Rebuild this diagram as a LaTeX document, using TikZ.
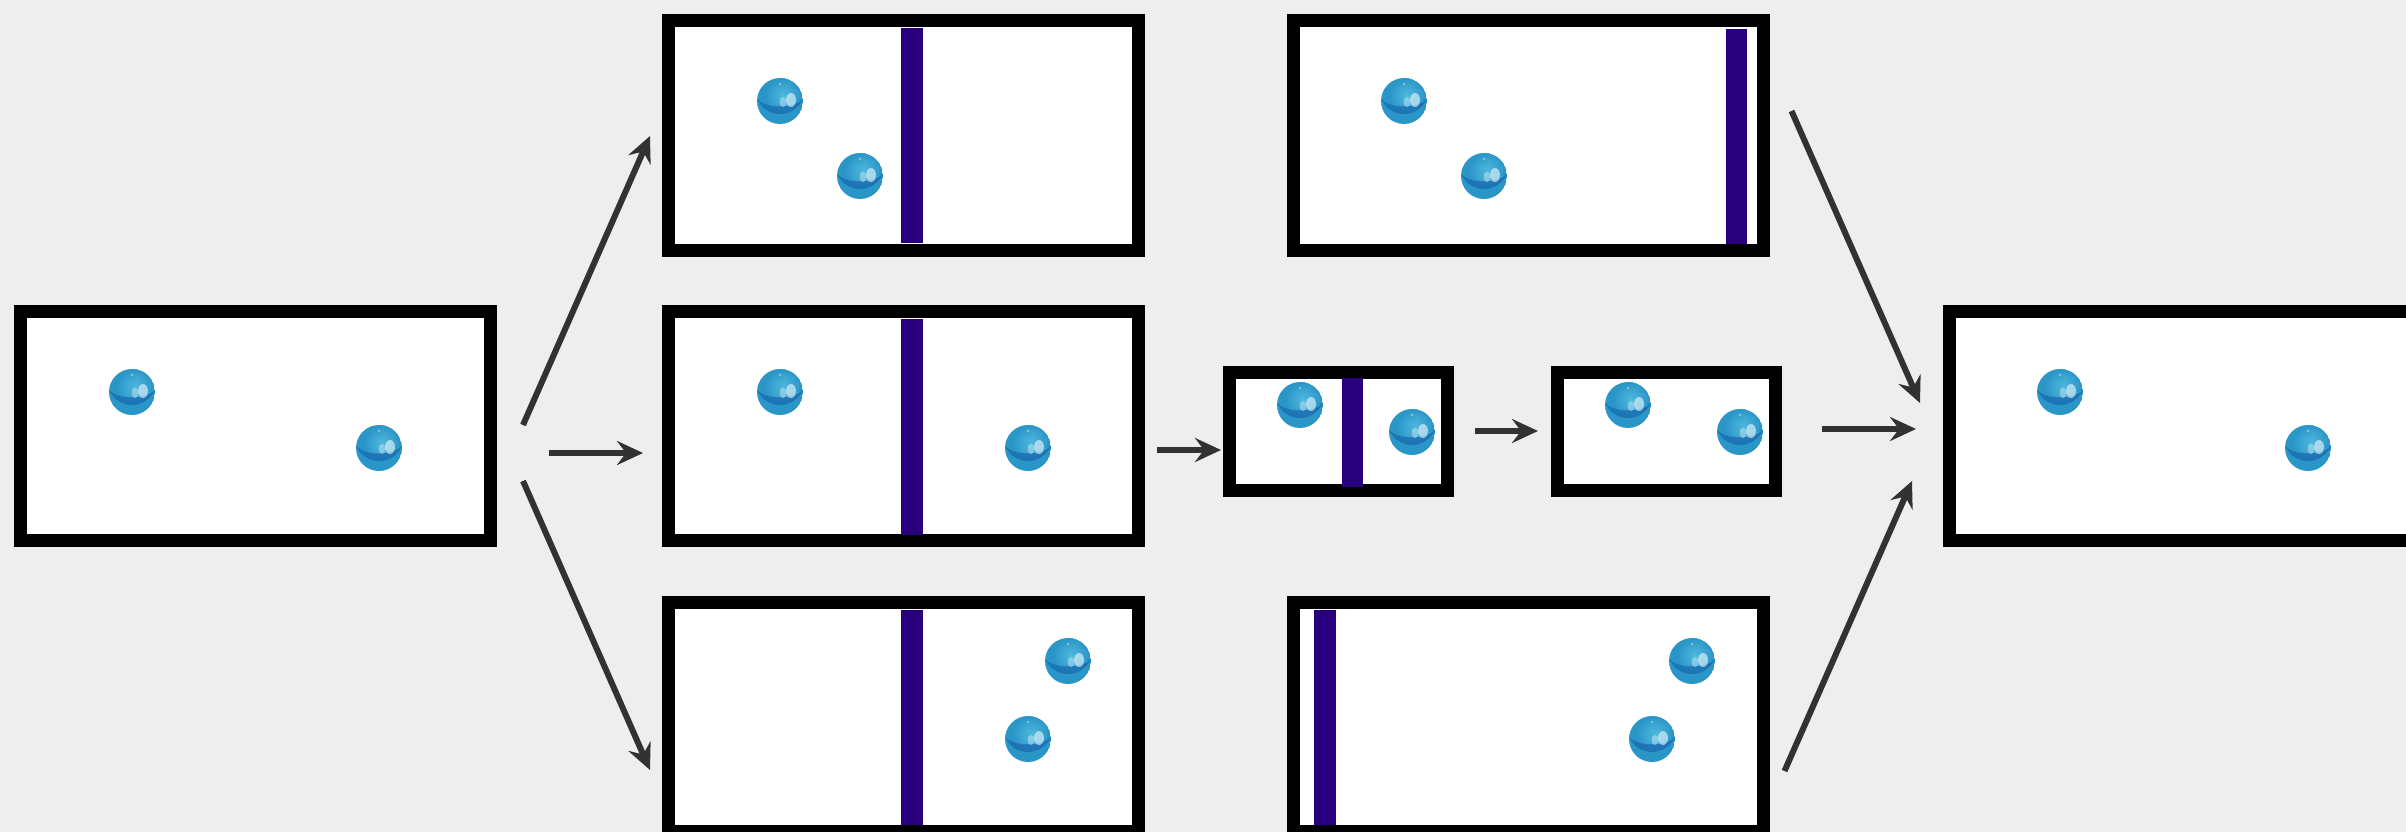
\documentclass[tikz,border=0pt]{standalone}
\usetikzlibrary{arrows.meta,calc}

\definecolor{paper}{RGB}{238,238,238}
\definecolor{barc}{RGB}{40,0,125}
\definecolor{arrowc}{RGB}{50,50,50}
\definecolor{ballmid}{RGB}{42,150,200}
\definecolor{balllight}{RGB}{80,185,222}
\definecolor{balldark}{RGB}{25,105,175}

\begin{document}
\begin{tikzpicture}[x=1pt,y=-1pt,
  chamber/.style={draw=black, fill=white, line width=13pt, rectangle,
    inner sep=0pt, minimum width=470pt, minimum height=229pt},
  smallchamber/.style={chamber, minimum width=218pt, minimum height=118pt},
  partition/.style={fill=barc},
  flow/.style={draw=arrowc, line width=6pt,
    -{Stealth[length=26pt,width=24pt,inset=9pt]}},
  ball/.pic={
    \begin{scope}
      \clip (0,0) circle[radius=23];
      \fill[ballmid] (0,0) circle[radius=23];
      \shade[inner color=balllight, outer color=ballmid] (3,-5) circle[radius=18];
      \fill[balldark, opacity=0.75] (-22.8,-2) .. controls (-14,8) and (14,8) .. (22.8,-2)
        .. controls (14,18) and (-14,18) .. (-22.8,-2) -- cycle;
      \fill[white, opacity=0.55] (11,-1) ellipse[x radius=5, y radius=7];
      \fill[white, opacity=0.35] (3,1) ellipse[x radius=3.5, y radius=5];
      \fill[white, opacity=0.5] (0,-17) circle[radius=1.2];
    \end{scope}
  }
]
\useasboundingbox (0,0) rectangle (2406,832);
\clip (0,0) rectangle (2406,832);
\fill[paper] (0,0) rectangle (2406,832);

% chambers
\node[chamber] (A)  at (255.5,426)   {};
\node[chamber] (TM) at (903.5,135.5) {};
\node[chamber] (MM) at (903.5,426)   {};
\node[chamber] (BM) at (903.5,717)   {};
\node[chamber] (TR) at (1528,135.5)  {};
\node[chamber] (BR) at (1528,717)    {};
\node[smallchamber] (S1) at (1338.5,431.5) {};
\node[smallchamber] (S2) at (1666.5,431.5) {};
\node[chamber] (F)  at (2184.5,426)  {};

% partitions
\fill[partition] (901,28)   rectangle (923,243);
\fill[partition] (901,319)  rectangle (923,535);
\fill[partition] (901,610)  rectangle (923,825);
\fill[partition] (1726,29)  rectangle (1747,244);
\fill[partition] (1314,610) rectangle (1336,825);
\fill[partition] (1342,378) rectangle (1363,487);

% balls
\pic at (132,392)  {ball};
\pic at (379,448)  {ball};
\pic at (780,101)  {ball};
\pic at (860,176)  {ball};
\pic at (780,392)  {ball};
\pic at (1028,448) {ball};
\pic at (1068,661) {ball};
\pic at (1028,739) {ball};
\pic at (1404,101) {ball};
\pic at (1484,176) {ball};
\pic at (1692,661) {ball};
\pic at (1652,739) {ball};
\pic at (1300,405) {ball};
\pic at (1412,432) {ball};
\pic at (1628,405) {ball};
\pic at (1740,432) {ball};
\pic at (2060,392) {ball};
\pic at (2308,448) {ball};

% arrow end points
\coordinate (a1) at ($(A.east)+(26,-1)$);
\coordinate (b1) at ($(TM.west)+(-12,0.5)$);
\coordinate (a2) at ($(A.east)+(52,27)$);
\coordinate (b2) at ($(MM.west)+(-19,27)$);
\coordinate (a3) at ($(A.east)+(26,55)$);
\coordinate (b3) at ($(BM.west)+(-12,53)$);
\coordinate (a4) at ($(MM.east)+(12,24)$);
\coordinate (b4) at ($(S1.west)+(-2,18.5)$);
\coordinate (a5) at ($(S1.east)+(21,-0.5)$);
\coordinate (b5) at ($(S2.west)+(-13,-0.5)$);
\coordinate (a6) at ($(TR.east)+(22,-24.5)$);
\coordinate (b6) at ($(F.west)+(-23,-23)$);
\coordinate (a7) at ($(S2.east)+(40,-2.5)$);
\coordinate (b7) at ($(F.west)+(-27,3)$);
\coordinate (a8) at ($(BR.east)+(15,54)$);
\coordinate (b8) at ($(F.west)+(-31,55)$);

% arrows
\draw[flow] (a1) -- (b1);
\draw[flow] (a2) -- (b2);
\draw[flow] (a3) -- (b3);
\draw[flow] (a4) -- (b4);
\draw[flow] (a5) -- (b5);
\draw[flow] (a6) -- (b6);
\draw[flow] (a7) -- (b7);
\draw[flow] (a8) -- (b8);
\end{tikzpicture}
\end{document}
